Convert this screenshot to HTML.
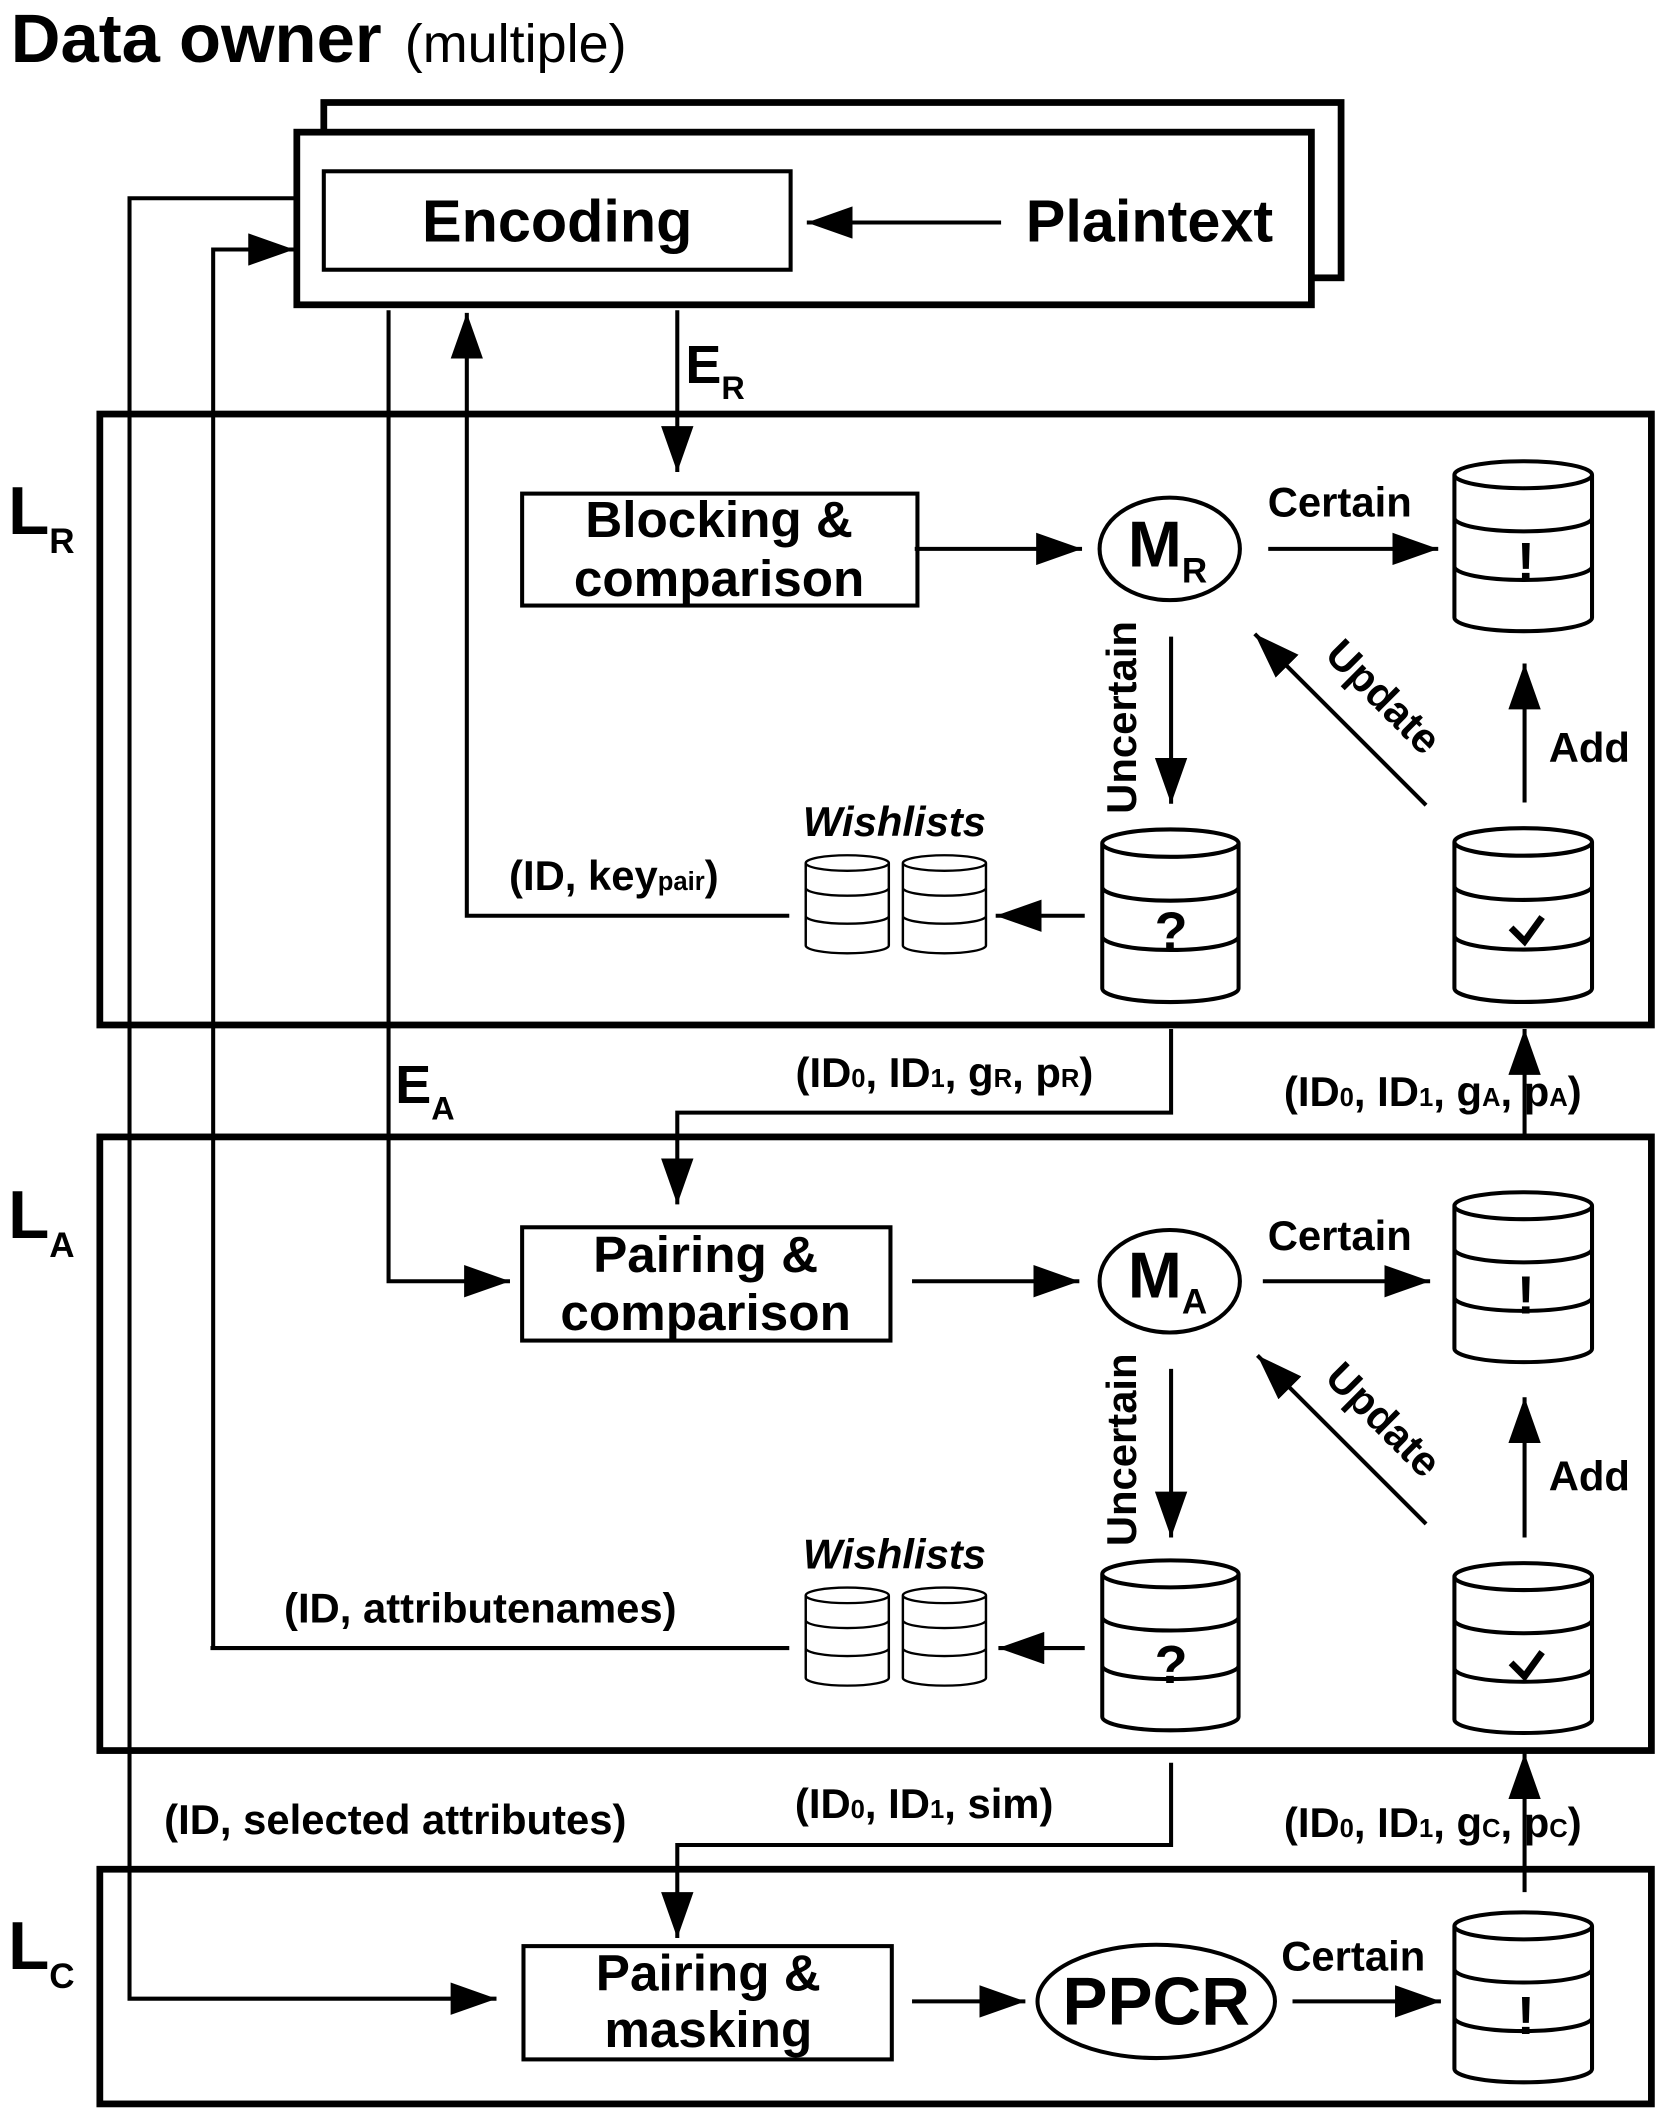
<!DOCTYPE html>
<html><head><style>html,body{margin:0;padding:0;background:#fff}svg{display:block}</style></head>
<body>
<svg width="1663" height="2114" viewBox="0 0 1240 1562" preserveAspectRatio="none" xmlns="http://www.w3.org/2000/svg" font-family="Liberation Sans, sans-serif" font-weight="bold">
<defs>
<marker id="b" markerWidth="34" markerHeight="24" refX="34" refY="12" orient="auto" markerUnits="userSpaceOnUse" viewBox="0 0 34 24">
<path d="M0,0 L34,12 L0,24 z" fill="#000"/></marker>
<symbol id="cyl" viewBox="0 0 106 130" preserveAspectRatio="none">
<path d="M2,12 A51,10 0 0 1 104,12 A51,10 0 0 1 2,12 Z M2,12 V118 A51,10 0 0 0 104,118 V12 M2,44 A51,10 0 0 0 104,44 M2,80 A51,10 0 0 0 104,80" fill="#fff" stroke="#000" stroke-width="3"/>
</symbol>
</defs>
<g transform="scale(1.006,0.9965)">
<g fill="none" stroke="#000">
<rect x="240" y="76" width="754" height="130" stroke-width="5"/>
<rect x="220" y="98" width="752" height="128" stroke-width="5" fill="#fff"/>
<rect x="240" y="127" width="346" height="73" stroke-width="3"/>
<rect x="74" y="307" width="1150" height="453" stroke-width="5"/>
<rect x="74" y="843" width="1150" height="455" stroke-width="5"/>
<rect x="74" y="1386" width="1150" height="174" stroke-width="5"/>
<rect x="387" y="366" width="293" height="83" stroke-width="3"/>
<rect x="387" y="910" width="273" height="84" stroke-width="3"/>
<rect x="388" y="1443" width="273" height="84" stroke-width="3"/>
<ellipse cx="867" cy="407" rx="52" ry="38" stroke-width="3"/>
<ellipse cx="867" cy="950" rx="52" ry="38" stroke-width="3"/>
<ellipse cx="857" cy="1484" rx="88" ry="42" stroke-width="3"/>
<line x1="585" y1="1222" x2="156" y2="1222" stroke-width="3"/>
<g stroke-width="3" marker-end="url(#b)">
<line x1="742" y1="165" x2="598" y2="165"/>
<polyline points="220,147 96,147 96,1482 368,1482"/>
<polyline points="158,1222 158,185 218,185"/>
<polyline points="288,230 288,950 378,950"/>
<polyline points="585,679 346,679 346,232"/>
<line x1="502" y1="230" x2="502" y2="350"/>
<line x1="678" y1="407" x2="802" y2="407"/>
<line x1="940" y1="407" x2="1066" y2="407"/>
<line x1="868" y1="472" x2="868" y2="596"/>
<line x1="804" y1="679" x2="738" y2="679"/>
<line x1="1130" y1="595" x2="1130" y2="492"/>
<line x1="1057" y1="597" x2="930" y2="470"/>
<polyline points="868,763 868,825 502,825 502,893"/>
<line x1="1130" y1="842" x2="1130" y2="763"/>
<line x1="676" y1="950" x2="800" y2="950"/>
<line x1="936" y1="950" x2="1060" y2="950"/>
<line x1="868" y1="1015" x2="868" y2="1140"/>
<line x1="804" y1="1222" x2="740" y2="1222"/>
<line x1="1130" y1="1140" x2="1130" y2="1036"/>
<line x1="1057" y1="1130" x2="932" y2="1005"/>
<polyline points="868,1307 868,1368 502,1368 502,1437"/>
<line x1="1130" y1="1403" x2="1130" y2="1300"/>
<line x1="676" y1="1484" x2="760" y2="1484"/>
<line x1="958" y1="1484" x2="1068" y2="1484"/>
</g>
</g>
<use href="#cyl" x="1076" y="340" width="106" height="130"/>
<use href="#cyl" x="815" y="613" width="105" height="132"/>
<use href="#cyl" x="596" y="633" width="64" height="75"/>
<use href="#cyl" x="668" y="633" width="64" height="75"/>
<use href="#cyl" x="1076" y="612" width="106" height="133"/>
<use href="#cyl" x="1076" y="882" width="106" height="130"/>
<use href="#cyl" x="815" y="1155" width="105" height="130"/>
<use href="#cyl" x="596" y="1176" width="64" height="75"/>
<use href="#cyl" x="668" y="1176" width="64" height="75"/>
<use href="#cyl" x="1076" y="1157" width="106" height="130"/>
<use href="#cyl" x="1076" y="1416" width="106" height="130"/>
<g fill="#000">
<text x="8" y="46" font-size="51">Data owner</text>
<text x="300" y="46" font-weight="normal" font-size="40">(multiple)</text>
<text x="413" y="179" font-size="44" text-anchor="middle">Encoding</text>
<text x="852" y="179" font-size="44" text-anchor="middle">Plaintext</text>
<text x="508" y="284" font-size="40">E<tspan font-size="24" dy="12">R</tspan></text>
<text x="293" y="818" font-size="40">E<tspan font-size="24" dy="12">A</tspan></text>
<text x="6" y="396" font-size="50">L<tspan font-size="26" dy="14">R</tspan></text>
<text x="6" y="918" font-size="50">L<tspan font-size="26" dy="14">A</tspan></text>
<text x="6" y="1460" font-size="50">L<tspan font-size="26" dy="14">C</tspan></text>
<g font-size="38" text-anchor="middle">
<text x="533" y="398">Blocking &amp;</text><text x="533" y="442">comparison</text>
<text x="523" y="943">Pairing &amp;</text><text x="523" y="986">comparison</text>
<text x="525" y="1476">Pairing &amp;</text><text x="525" y="1518">masking</text>
</g>
<text x="836" y="420" font-size="48">M<tspan font-size="26" dy="12">R</tspan></text>
<text x="836" y="962" font-size="48">M<tspan font-size="26" dy="12">A</tspan></text>
<text x="857" y="1501" font-size="50" text-anchor="middle">PPCR</text>
<g font-size="31" text-anchor="middle">
<text x="993" y="383">Certain</text>
<text x="993" y="927">Certain</text>
<text x="1003" y="1461">Certain</text>
<text x="1178" y="565">Add</text>
<text x="1178" y="1105">Add</text>
<text x="663" y="620" font-style="italic">Wishlists</text>
<text x="663" y="1163" font-style="italic">Wishlists</text>
<text transform="translate(842,532) rotate(-90)">Uncertain</text>
<text transform="translate(842,1075) rotate(-90)">Uncertain</text>
<text transform="translate(1018,524) rotate(45)">Update</text>
<text transform="translate(1018,1060) rotate(45)">Update</text>
<text x="455" y="660">(ID, key<tspan font-size="19">pair</tspan>)</text>
<text x="356" y="1203">(ID, attributenames)</text>
<text x="293" y="1360">(ID, selected attributes)</text>
<text x="700" y="806">(ID<tspan font-size="19">0</tspan>, ID<tspan font-size="19">1</tspan>, g<tspan font-size="19">R</tspan>, p<tspan font-size="19">R</tspan>)</text>
<text x="1062" y="820">(ID<tspan font-size="19">0</tspan>, ID<tspan font-size="19">1</tspan>, g<tspan font-size="19">A</tspan>, p<tspan font-size="19">A</tspan>)</text>
<text x="685" y="1348">(ID<tspan font-size="19">0</tspan>, ID<tspan font-size="19">1</tspan>, sim)</text>
<text x="1062" y="1362">(ID<tspan font-size="19">0</tspan>, ID<tspan font-size="19">1</tspan>, g<tspan font-size="19">C</tspan>, p<tspan font-size="19">C</tspan>)</text>
<text x="1131" y="430" font-size="40">!</text>
<text x="1131" y="974" font-size="40">!</text>
<text x="1131" y="1508" font-size="40">!</text>
<text x="868" y="704" font-size="40">?</text>
<text x="868" y="1248" font-size="40">?</text>
</g>
<g fill="none" stroke="#000" stroke-width="5">
<path d="M1120,688 L1130,698 L1143,680"/>
<path d="M1120,1233 L1130,1243 L1143,1225"/>
</g>
</g>
</svg>
</body></html>
